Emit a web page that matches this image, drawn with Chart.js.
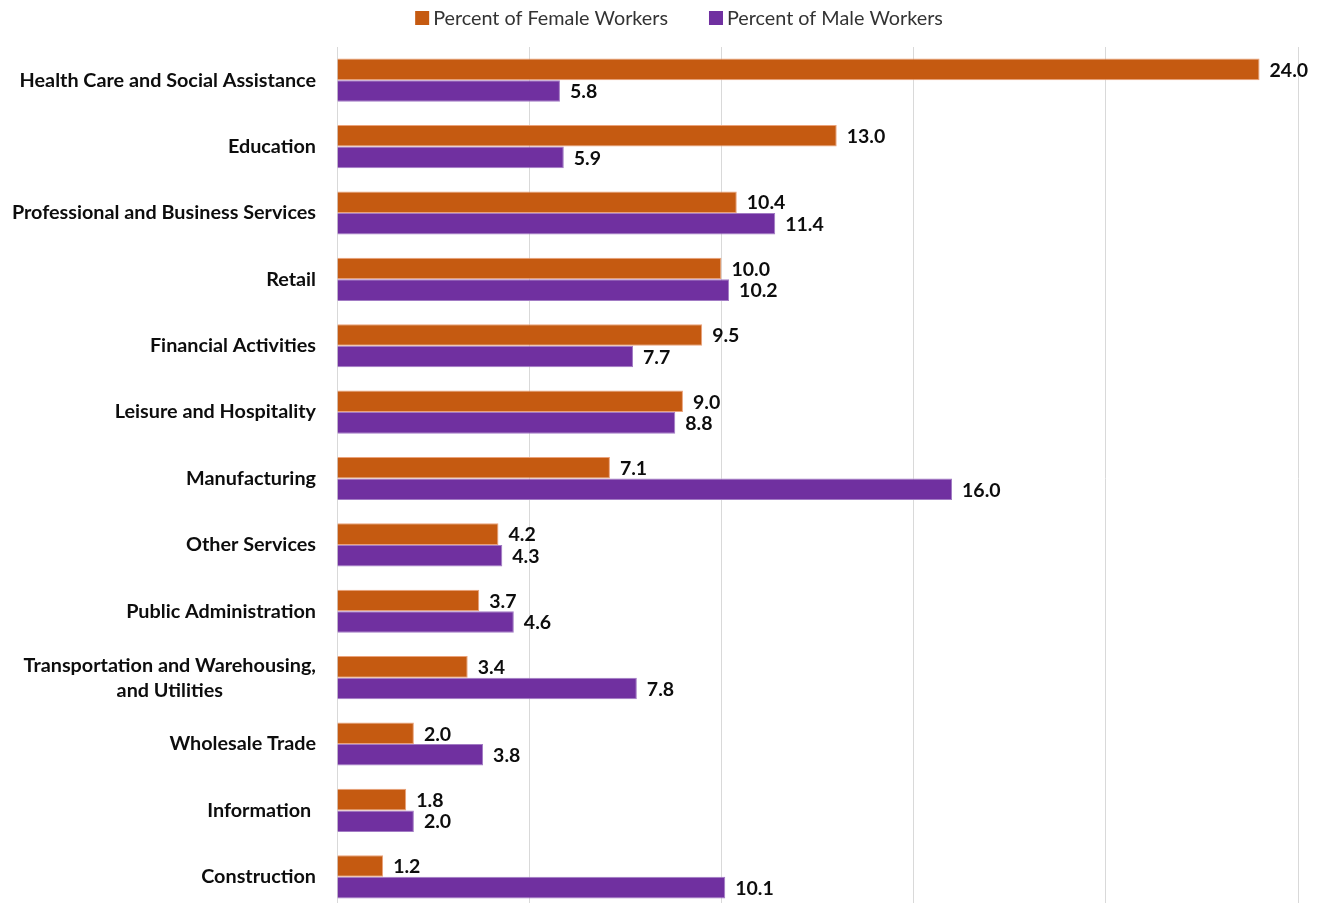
<!DOCTYPE html>
<html>
<head>
<meta charset="utf-8">
<script src="https://cdn.jsdelivr.net/npm/chart.js@4"></script>
<style>
  html, body { margin: 0; padding: 0; background: #fff; overflow: hidden; }
  #wrap { width: 1322px; height: 910px; position: relative; }
</style>
</head>
<body>
<div id="wrap"><canvas id="industry-chart"></canvas></div>
<script>
// --- Données ---
const industries = [
    'Health Care and Social Assistance',
    'Education',
    'Professional and Business Services',
    'Retail',
    'Financial Activities',
    'Leisure and Hospitality',
    'Manufacturing',
    'Other Services',
    'Public Administration',
    ['Transportation and Warehousing,', 'and Utilities'],
    'Wholesale Trade',
    'Information ',
    'Construction'
];
const femaleWorkers = [24.0, 13.0, 10.4, 10.0, 9.5, 9.0, 7.1, 4.2, 3.7, 3.4, 2.0, 1.8, 1.2];
const maleWorkers = [5.8, 5.9, 11.4, 10.2, 7.7, 8.8, 16.0, 4.3, 4.6, 7.8, 3.8, 2.0, 10.1];
const seriesNames = ['Percent of Female Workers', 'Percent of Male Workers'];

const ORANGE = '#C55A11';
const PURPLE = '#7030A0';
const FONT = 'Lato, "Open Sans", sans-serif';

// étiquettes de valeur au bout des barres
const valueLabels = {
    id: 'valueLabels',
    afterDatasetsDraw(chart) {
        const ctx = chart.ctx;
        ctx.save();
        ctx.font = 'bold 19.5px ' + FONT;
        ctx.fillStyle = '#0d0d0d';
        ctx.textAlign = 'left';
        ctx.textBaseline = 'middle';
        chart.data.datasets.forEach((ds, i) => {
            chart.getDatasetMeta(i).data.forEach((bar, j) => {
                ctx.fillText(ds.data[j].toFixed(1), bar.x + 10, bar.y + 1);
            });
        });
        ctx.restore();
    }
};

// libellés des catégories (la 2e ligne centrée comme dans Excel)
const categoryLabels = {
    id: 'categoryLabels',
    afterDraw(chart) {
        const ctx = chart.ctx;
        const yScale = chart.scales.y;
        const right = chart.chartArea.left - 21;
        ctx.save();
        ctx.font = 'bold 19.8px ' + FONT;
        ctx.fillStyle = '#0d0d0d';
        ctx.textBaseline = 'middle';
        industries.forEach((label, i) => {
            const y = yScale.getPixelForValue(i);
            if (Array.isArray(label)) {
                const widest = Math.max(...label.map(l => ctx.measureText(l).width));
                const cx = right - widest / 2;
                ctx.textAlign = 'center';
                label.forEach((line, k) => {
                    ctx.fillText(line, cx, y + (k - (label.length - 1) / 2) * 25);
                });
            } else {
                ctx.textAlign = 'right';
                ctx.fillText(label, right, y);
            }
        });
        ctx.restore();
    }
};

// légende dessinée à la main (espacement comme l'original)
const topLegend = {
    id: 'topLegend',
    afterDraw(chart) {
        const ctx = chart.ctx;
        const colors = [ORANGE, PURPLE];
        ctx.save();
        ctx.font = '19.8px ' + FONT;
        ctx.textBaseline = 'middle';
        ctx.textAlign = 'left';
        const box = 14, gap = 4, spacing = 41;
        const widths = seriesNames.map(n => ctx.measureText(n).width);
        const total = widths.reduce((a, w) => a + box + gap + w, 0) + spacing;
        let x = 679 - total / 2;
        const y = 18;
        seriesNames.forEach((name, i) => {
            ctx.fillStyle = colors[i];
            ctx.fillRect(x, y - box / 2, box, box);
            ctx.fillStyle = '#333';
            ctx.fillText(name, x + box + gap, y + 1);
            x += box + gap + widths[i] + spacing;
        });
        ctx.restore();
    }
};

new Chart(document.getElementById('industry-chart'), {
    type: 'bar',
    data: {
        labels: industries,
        datasets: [{
            label: seriesNames[0],
            data: femaleWorkers,
            backgroundColor: ORANGE,
            borderColor: '#EBA27A',
            borderWidth: 1,
            categoryPercentage: 0.65,
            barPercentage: 1.0
        }, {
            label: seriesNames[1],
            data: maleWorkers,
            backgroundColor: PURPLE,
            borderColor: '#A27BC4',
            borderWidth: 1,
            categoryPercentage: 0.65,
            barPercentage: 1.0
        }]
    },
    options: {
        indexAxis: 'y',
        responsive: true,
        maintainAspectRatio: false,
        animation: false,
        layout: { padding: { top: 47, right: 24, bottom: 0, left: 0 } },
        plugins: {
            legend: { display: false },
            tooltip: { enabled: false }
        },
        scales: {
            x: {
                min: 0,
                max: 25,
                ticks: { display: false, stepSize: 5 },
                grid: { color: '#D9D9D9', lineWidth: 1, drawTicks: false },
                border: { display: false }
            },
            y: {
                ticks: { display: false },
                grid: { display: false },
                border: { display: false },
                afterFit(scale) { scale.width = 337; }
            }
        }
    },
    plugins: [valueLabels, categoryLabels, topLegend]
});
</script>
</body>
</html>
